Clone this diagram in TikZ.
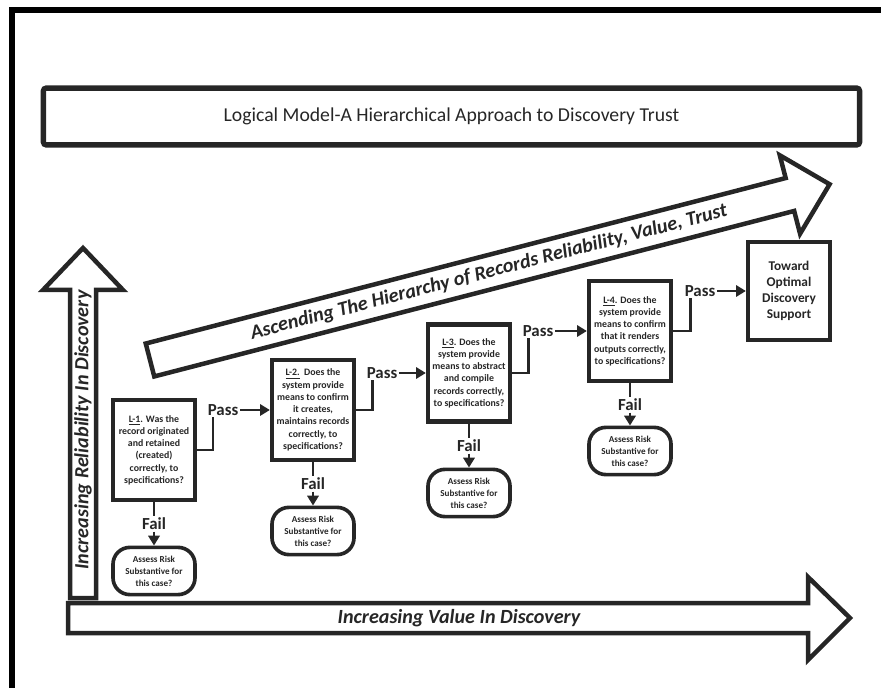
\documentclass[tikz,border=0pt]{standalone}
\usepackage{fontspec}
\setmainfont{Carlito}
\usepackage{tikz}
\usetikzlibrary{arrows.meta,calc}
\definecolor{ink}{RGB}{38,38,38}

\tikzset{
  qbox/.style={draw=ink, line width=3pt, align=center, inner sep=1pt, text=ink,
    font=\bfseries\fontsize{7}{8.7}\selectfont, minimum width=2.05cm, minimum height=2.5cm},
  riskbox/.style={draw=ink, line width=2.6pt, rounded corners=12pt, align=center, inner sep=1pt,
    text=ink, font=\bfseries\fontsize{6.5}{8.5}\selectfont, minimum width=2.05cm, minimum height=1.18cm},
  lbl/.style={text=ink, inner sep=1pt, font=\bfseries\fontsize{12}{14}\selectfont},
  flow/.style={draw=ink, line width=2pt},
  flowarrow/.style={flow, -{Triangle[length=7pt,width=8pt]}},
  bigarrow/.style={draw=ink, line width=3.2pt, line join=miter, fill=white},
  bigtext/.style={text=ink, font=\bfseries\itshape\fontsize{14.3}{16}\selectfont}
}

\begin{document}
\begin{tikzpicture}[x=0.025cm, y=-0.025cm]
        \useasboundingbox (0,0) rectangle (881,688);
        % Frame
        \draw[line width=4pt, black] (12,688) -- (12,10) -- (881,10);
        % Title
        \node[draw=ink, line width=3.8pt, rounded corners=2pt, text=ink,
          minimum width=20.4cm, minimum height=1.42cm, font=\fontsize{14}{16.8}\selectfont]
          (title) at (451.5,116.5) {Logical Model-A Hierarchical Approach to Discovery Trust};
        % Axes
        \draw[bigarrow] (70,598) -- (70,290) -- (43,290) -- (83,248) -- (123,290) -- (96,290) -- (96,598) -- cycle;
        \node[bigtext, rotate=90] (reliability) at (83,430) {Increasing Reliability In Discovery};
        \draw[bigarrow] (68,603) -- (808,603) -- (808,577) -- (850,618) -- (808,660) -- (808,633) -- (68,633) -- cycle;
        \node[bigtext] (value) at (459,618) {Increasing Value In Discovery};
        % Hierarchy arrow
        \begin{scope}[shift={(150,360)}, rotate=14.5]
          \draw[bigarrow] (0,-17) -- (661,-17) -- (661,-40.5) -- (702,0) -- (661,40.5) -- (661,17) -- (0,17) -- cycle;
          \node[bigtext, transform shape, font=\bfseries\itshape\fontsize{14.3}{16}\selectfont]
            (ascending) at (350,0) {Ascending The Hierarchy of Records Reliability, Value, Trust};
        \end{scope}
        % Levels
        \node[qbox] (l1) at (154,450) {\underline{L-1}. Was the\\record originated\\and retained\\(created)\\correctly, to\\specifications?};
        \node[qbox] (l2) at (313,410) {\underline{L-2.}\ \ Does the\\system provide\\means to confirm\\it creates,\\maintains records\\correctly, to\\specifications?};
        \node[qbox, minimum height=2.42cm] (l3) at (469,373) {\underline{L-3}. Does the\\system provide\\means to abstract\\and compile\\records correctly,\\to specifications?};
        \node[qbox] (l4) at (630,331) {\underline{L-4}. Does the\\system provide\\means to confirm\\that it renders\\outputs correctly,\\to specifications?};
        \node[qbox, minimum height=2.45cm, font=\bfseries\fontsize{9.5}{11.3}\selectfont]
          (toward) at (789,291) {Toward\\Optimal\\Discovery\\Support};
        % Risk
        \node[riskbox] (r1) at (154,571) {Assess Risk\\Substantive for\\this case?};
        \node[riskbox] (r2) at (313,531) {Assess Risk\\Substantive for\\this case?};
        \node[riskbox] (r3) at (469,493) {Assess Risk\\Substantive for\\this case?};
        \node[riskbox] (r4) at (630,451) {Assess Risk\\Substantive for\\this case?};
        % Pass
        \node[lbl] (p1) at (223,410) {Pass};
        \node[lbl] (p2) at (382,373) {Pass};
        \node[lbl] (p3) at (538,331) {Pass};
        \node[lbl] (p4) at (700,291) {Pass};
        \draw[flow] (l1.east) -| ($(p1.south west)+(7,0)$);
        \draw[flowarrow] (p1.east) -- (l2.west);
        \draw[flow] (l2.east) -| ($(p2.south west)+(7,0)$);
        \draw[flowarrow] (p2.east) -- (l3.west);
        \draw[flow] (l3.east) -| ($(p3.south west)+(7,0)$);
        \draw[flowarrow] (p3.east) -- (l4.west);
        \draw[flow] (l4.east) -| ($(p4.south west)+(7,0)$);
        \draw[flowarrow] (p4.east) -- (toward.west);
        % Fail
        \node[lbl] (f1) at (154,524) {Fail};
        \node[lbl] (f2) at (313,484) {Fail};
        \node[lbl] (f3) at (469,446) {Fail};
        \node[lbl] (f4) at (630,405) {Fail};
        \draw[flow] (l1.south) -- (f1.north);
        \draw[flowarrow] (f1.south) -- (r1.north);
        \draw[flow] (l2.south) -- (f2.north);
        \draw[flowarrow] (f2.south) -- (r2.north);
        \draw[flow] (l3.south) -- (f3.north);
        \draw[flowarrow] (f3.south) -- (r3.north);
        \draw[flow] (l4.south) -- (f4.north);
        \draw[flowarrow] (f4.south) -- (r4.north);
      \end{tikzpicture}
\end{document}
